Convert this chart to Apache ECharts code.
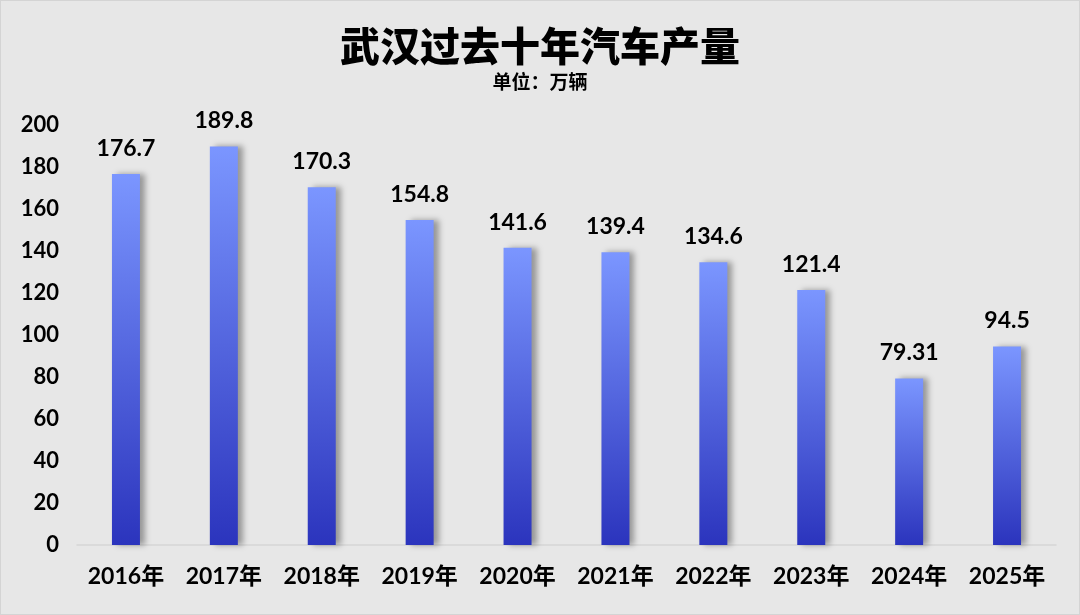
<!DOCTYPE html>
<html>
<head>
<meta charset="utf-8">
<title>武汉过去十年汽车产量</title>
<script src="https://cdn.jsdelivr.net/npm/echarts@6/dist/echarts.min.js"></script>
<style>
  html, body { margin: 0; padding: 0; background: #e7e7e7; }
  #main { width: 1078px; height: 613px; border: 1px solid #d4d4d4; }
</style>
</head>
<body>
<div id="main"></div>
<script>
// 数据
var years = ['2016年', '2017年', '2018年', '2019年', '2020年', '2021年', '2022年', '2023年', '2024年', '2025年'];
var output = [176.7, 189.8, 170.3, 154.8, 141.6, 139.4, 134.6, 121.4, 79.31, 94.5];
var yTicks = { min: 0, max: 200, interval: 20 };

var font = 'Lato, "Noto Sans CJK SC", sans-serif';
var chart = echarts.init(document.getElementById('main'));

var option = {
  backgroundColor: '#e7e7e7',
  title: [{
    text: '武汉过去十年汽车产量',
    left: 'center',
    top: 20,
    textStyle: { fontFamily: '"Noto Sans CJK SC", sans-serif', fontSize: 40, fontWeight: 900, color: '#000' }
  }, {
    text: '单位：万辆',
    left: 'center',
    top: 66,
    textStyle: { fontFamily: '"Noto Sans CJK SC", sans-serif', fontSize: 19, fontWeight: 'bold', color: '#000' }
  }],
  grid: { left: 76, right: 23, top: 124, bottom: 69 },
  xAxis: {
    type: 'category',
    data: years,
    axisLine: { lineStyle: { color: '#d6d6d6', width: 1.5 } },
    axisTick: { show: false },
    axisLabel: { interval: 0, fontFamily: font, fontSize: 23, fontWeight: 'bold', color: '#000', margin: 20 }
  },
  yAxis: {
    type: 'value',
    min: yTicks.min,
    max: yTicks.max,
    interval: yTicks.interval,
    splitLine: { show: false },
    axisLine: { show: false },
    axisTick: { show: false },
    axisLabel: { fontFamily: font, fontSize: 22, fontWeight: 'bold', color: '#000', margin: 18 }
  },
  series: [{
    type: 'bar',
    data: output,
    barWidth: 28,
    itemStyle: {
      color: new echarts.graphic.LinearGradient(0, 0, 0, 1, [
        { offset: 0, color: '#7b96ff' },
        { offset: 1, color: '#2b34bd' }
      ]),
      shadowColor: 'rgba(0,0,0,0.35)',
      shadowBlur: 6,
      shadowOffsetX: 5,
      shadowOffsetY: 0
    },
    label: {
      show: true,
      position: 'top',
      distance: 14,
      fontFamily: font,
      fontSize: 23,
      fontWeight: 'bold',
      color: '#000'
    }
  }]
};

chart.setOption(option);
</script>
</body>
</html>
